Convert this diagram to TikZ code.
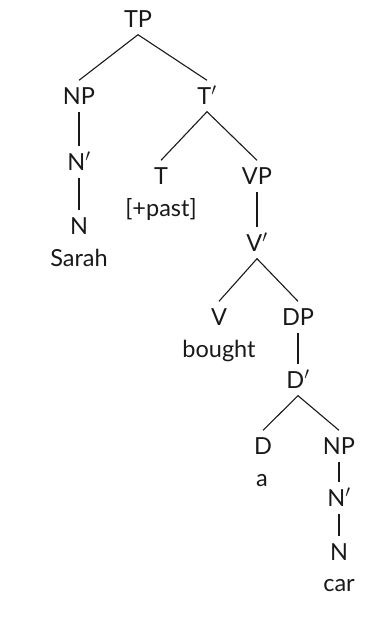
\documentclass[tikz,border=0pt]{standalone}
\usepackage{fontspec}
\setmainfont{Lato}
\begin{document}
\begin{tikzpicture}[x=1pt,y=-1pt,
  lab/.style={font=\fontsize{23.5}{28}\selectfont, text=black!90, text height=17pt, text depth=0pt, inner xsep=0pt, inner ysep=7pt, anchor=center},
  edge/.style={draw=black!90, line width=1.1pt}]
\useasboundingbox (0,0) rectangle (387,623);
\node[lab] (TP) at (138,19) {TP};
\node[lab] (NPa) at (79,96) {NP};
\node[lab] (Tbar) at (207,96) {T$'$};
\node[lab] (Nbara) at (79,162) {N$'$};
\node[lab] (Na) at (79,226) {N};
\node[lab] (sarah) at (79,258) {Sarah};
\node[lab] (T) at (161,176) {T};
\node[lab] (past) at (161,208) {[+past]};
\node[lab] (VP) at (257,176) {VP};
\node[lab] (Vbar) at (257,243) {V$'$};
\node[lab] (V) at (219,317) {V};
\node[lab] (DP) at (298,317) {DP};
\node[lab] (bought) at (219,349) {bought};
\node[lab] (Dbar) at (298,380) {D$'$};
\node[lab] (D) at (263,446) {D};
\node[lab] (NPb) at (339,446) {NP};
\node[lab] (a) at (262,478) {a};
\node[lab] (Nbarb) at (339,498) {N$'$};
\node[lab] (Nb) at (339,552) {N};
\node[lab] (car) at (339,583) {car};
\draw[edge] (NPa.north) -- (TP.south) -- (Tbar.north);
\draw[edge] (NPa.south) -- (Nbara.north);
\draw[edge] (Nbara.south) -- (Na.north);
\draw[edge] (T.north) -- (Tbar.south) -- (VP.north);
\draw[edge] (VP.south) -- (Vbar.north);
\draw[edge] (V.north) -- (Vbar.south) -- (DP.north);
\draw[edge] (DP.south) -- (Dbar.north);
\draw[edge] (D.north) -- (Dbar.south) -- (NPb.north);
\draw[edge] (NPb.south) -- (Nbarb.north);
\draw[edge] (Nbarb.south) -- (Nb.north);
\end{tikzpicture}
\end{document}
